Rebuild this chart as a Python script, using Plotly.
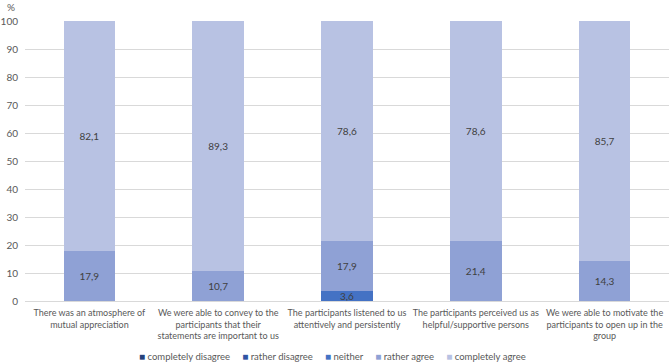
import plotly.graph_objects as go

categories = [
    "There was an atmosphere of<br>mutual appreciation",
    "We were able to convey to the<br>participants that their<br>statements are important to us",
    "The participants listened to us<br>attentively and persistently",
    "The participants perceived us as<br>helpful/supportive persons",
    "We were able to motivate the<br>participants to open up in the<br>group",
]
series_names = ["completely disagree", "rather disagree", "neither", "rather agree", "completely agree"]
completely_disagree = [0, 0, 0, 0, 0]
rather_disagree = [0, 0, 0, 0, 0]
neither = [0, 0, 3.6, 0, 0]
rather_agree = [17.9, 10.7, 17.9, 21.4, 14.3]
completely_agree = [82.1, 89.3, 78.6, 78.6, 85.7]
y_ticks = list(range(0, 101, 10))

colors = ["#25417a", "#2f54a3", "#4472c4", "#8fa1d5", "#b8c2e3"]
values = [completely_disagree, rather_disagree, neither, rather_agree, completely_agree]

FONT = "Lato, Open Sans, sans-serif"
TXT = "#595959"

fig = go.Figure()
for name, vals, col in zip(series_names, values, colors):
    txt = [("%.1f" % v).replace(".", ",") if v else "" for v in vals]
    fig.add_trace(go.Bar(
        x=categories, y=vals, name=name, marker_color=col,
        text=txt, textposition="inside", insidetextanchor="middle",
        textfont=dict(color="#404040", size=10, family=FONT),
        width=0.40, marker_line_width=0, showlegend=False,
    ))

# legend as a single line of text built from the series names/colours
legend_text = "&nbsp;&nbsp;&nbsp;&nbsp;&nbsp;".join(
    f"<span style='color:{c};font-size:10px'>■</span> {n}" for n, c in zip(series_names, colors)
)

fig.update_layout(
    barmode="stack",
    width=669, height=364,
    margin=dict(l=25, r=0, t=21, b=63, autoexpand=False),
    paper_bgcolor="white", plot_bgcolor="white",
    font=dict(family=FONT, size=10, color=TXT),
    uniformtext=dict(minsize=8, mode="show"),
    xaxis=dict(showline=True, linecolor="#d9d9d9", tickfont=dict(size=9, color=TXT),
               ticks="", showgrid=False, tickangle=0, automargin=False,
               ticklabelstandoff=3),
    yaxis=dict(range=[0, 100], tickvals=y_ticks, showgrid=True, gridcolor="#d9d9d9",
               zeroline=False, ticks="", tickfont=dict(size=10, color=TXT),
               ticklabelstandoff=6, automargin=False),
)
fig.layout.annotations = [
    dict(text="%", xref="paper", yref="paper", x=-0.022, y=1.05,
         xanchor="center", yanchor="middle", showarrow=False,
         font=dict(size=10, color=TXT)),
    dict(text=legend_text, xref="paper", yref="paper", x=0.477, y=-0.196,
         xanchor="center", yanchor="middle", showarrow=False,
         font=dict(size=9.5, color=TXT)),
]
fig.write_html("out.html", config={"displayModeBar": False},
               post_script="document.body.style.margin='0';document.body.style.padding='0';")
